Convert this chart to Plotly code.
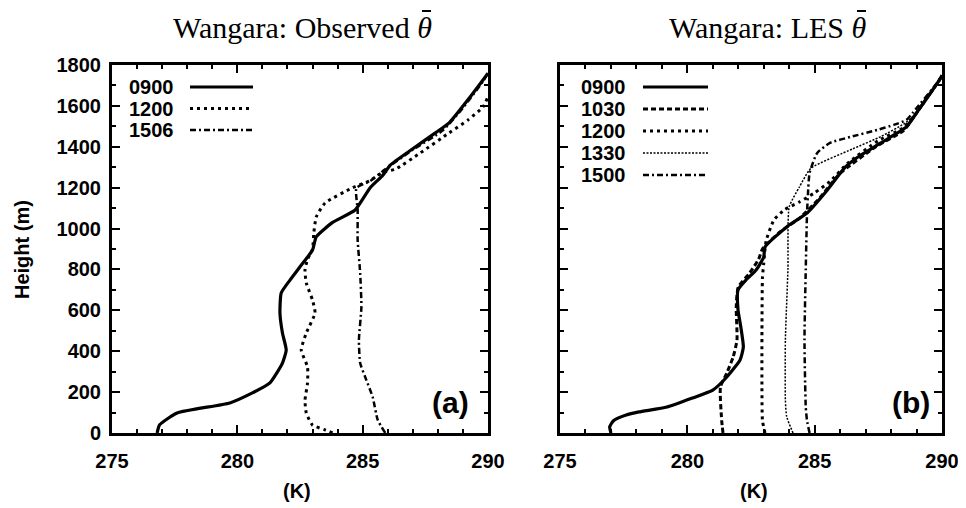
import plotly.graph_objects as go

# ---------------- data ----------------
# Panel (a): observed potential temperature profiles (K) vs height (m)
obs_0900_T = [276.8, 276.9, 277.6, 279.7, 280.6, 281.3, 281.8, 281.95, 281.8, 281.7, 281.75, 282.1, 282.5,
              283.0, 283.15, 283.8, 284.7, 285.3, 285.8, 286.1, 287.0, 287.9, 288.45, 289.2, 289.8, 290.0]
obs_0900_z = [0, 40, 98, 147, 196, 245, 342, 406, 489, 587, 685, 748, 813,
              895, 960, 1030, 1091, 1200, 1260, 1310, 1390, 1468, 1517, 1630, 1727, 1760]

obs_1200_T = [283.8, 283.5, 283.0, 282.75, 282.7, 282.8, 282.8, 282.55, 282.75, 283.1, 283.0, 282.75, 282.7,
              282.8, 283.0, 283.05, 283.15, 283.5, 284.6, 285.3, 285.8, 286.3, 287.3, 288.45, 289.2, 289.8, 290.0]
obs_1200_z = [0, 15, 39, 98, 161, 245, 323, 406, 489, 587, 650, 734, 798,
              850, 900, 978, 1057, 1125, 1200, 1235, 1275, 1290, 1370, 1468, 1531, 1595, 1645]

obs_1506_T = [285.9, 285.6, 285.4, 285.1, 284.9, 284.85, 284.95, 284.9, 284.8, 284.8, 284.75,
              285.3, 285.9, 287.0, 288.2, 289.0, 289.8, 290.0]
obs_1506_z = [0, 64, 176, 274, 342, 455, 616, 783, 944, 1091, 1198,
              1232, 1290, 1385, 1480, 1590, 1720, 1760]

# Panel (b): LES potential temperature profiles
les_0900_T = [277.0, 276.95, 277.1, 277.6, 278.1, 279.2, 280.2, 281.0, 281.55, 282.07, 282.2, 282.1, 281.99,
              281.99, 282.3, 282.7, 283.0, 283.05, 283.9, 284.7, 285.5, 286.2, 286.7, 287.6, 288.6, 289.0, 289.9, 290.0]
les_0900_z = [0, 30, 60, 88, 103, 127, 171, 210, 274, 357, 421, 519, 602,
              700, 748, 797, 861, 910, 1008, 1076, 1189, 1300, 1350, 1419, 1497, 1566, 1727, 1750]

les_1030_T = [281.4, 281.35, 281.3, 281.55, 281.8, 281.95, 281.92, 282.0, 282.45, 282.8, 282.95, 283.6,
              284.4, 285.2, 286.0, 287.4, 288.5, 289.0, 289.9, 290.0]
les_1030_z = [0, 60, 225, 293, 372, 455, 616, 714, 783, 850, 900, 980,
              1050, 1150, 1270, 1400, 1480, 1566, 1727, 1750]

les_1200_T = [283.05, 282.95, 282.93, 282.93, 282.95, 283.0, 283.05, 283.1, 283.4, 283.8, 284.4, 285.0,
              285.6, 286.3, 287.5, 288.5, 289.0, 289.9, 290.0]
les_1200_z = [0, 60, 200, 500, 760, 830, 900, 944, 1042, 1091, 1130, 1175,
              1230, 1320, 1430, 1495, 1566, 1727, 1750]

les_1330_T = [284.15, 283.9, 283.85, 283.85, 283.95, 284.0, 284.4, 284.85, 286.5, 287.6, 288.6, 289.1, 289.9, 290.0]
les_1330_z = [0, 80, 160, 455, 800, 1106, 1203, 1295, 1390, 1450, 1520, 1580, 1727, 1750]

les_1500_T = [284.8, 284.7, 284.65, 284.6, 284.65, 284.7, 284.75, 284.8, 285.1, 285.6, 286.4, 287.45,
              288.1, 288.6, 288.85, 289.9, 290.0]
les_1500_z = [0, 60, 127, 455, 800, 1076, 1200, 1272, 1370, 1419, 1448, 1482,
              1507, 1531, 1566, 1727, 1750]

obs_labels = ["0900", "1200", "1506"]
les_labels = ["0900", "1030", "1200", "1330", "1500"]

# ---------------- styles ----------------
S_SOLID = dict(width=3.2, dash="solid")
S_DOT = dict(width=3, dash="3px,4px")
S_DASHDOT = dict(width=2.5, dash="6px,3px,2px,3px")
S_DASH = dict(width=3, dash="5px,3px")
S_THIN = dict(width=1.5, dash="2px,1.5px")

# the page body has an 8px margin: size the figure so it fits the 966x508 window exactly
OX, OY = 8, 8
W, H = 966 - OX, 508 - OY
def px(x):
    return (x - OX) / W
def py(y):
    return 1 - (y - OY) / H

fig = go.Figure()

obs = [(obs_0900_T, obs_0900_z, S_SOLID), (obs_1200_T, obs_1200_z, S_DOT), (obs_1506_T, obs_1506_z, S_DASHDOT)]
les = [(les_0900_T, les_0900_z, S_SOLID), (les_1030_T, les_1030_z, S_DASH), (les_1200_T, les_1200_z, S_DOT),
       (les_1330_T, les_1330_z, S_THIN), (les_1500_T, les_1500_z, S_DASHDOT)]

for (T, z, st), name in zip(obs, obs_labels):
    fig.add_trace(go.Scatter(x=T, y=z, mode="lines", name=name, showlegend=False,
                             line=dict(color="black", width=st["width"], dash=st["dash"],
                                       shape="spline", smoothing=0.5),
                             xaxis="x", yaxis="y"))
for (T, z, st), name in zip(les, les_labels):
    fig.add_trace(go.Scatter(x=T, y=z, mode="lines", name=name, showlegend=False,
                             line=dict(color="black", width=st["width"], dash=st["dash"],
                                       shape="spline", smoothing=0.5),
                             xaxis="x2", yaxis="y2"))

tickfont = dict(family="Liberation Sans", size=20, color="black", weight="bold")
minor_x = dict(dtick=1, ticklen=4, tickwidth=2, ticks="inside", tickcolor="black")
minor_y = dict(dtick=100, ticklen=4, tickwidth=2, ticks="inside", tickcolor="black")
common = dict(showline=True, linewidth=3, linecolor="black", mirror="allticks", ticks="inside",
              ticklen=8, tickwidth=2, tickcolor="black", showgrid=False, zeroline=False, tickfont=tickfont,
              automargin=False)

ydom = [py(433), py(65)]
fig.update_layout(
    width=W, height=H, margin=dict(l=0, r=0, t=0, b=0, autoexpand=False),
    paper_bgcolor="white", plot_bgcolor="white", showlegend=False,
    xaxis=dict(domain=[px(112), px(488)], range=[275, 290], tick0=275, dtick=5, minor=minor_x,
               anchor="y", ticklabelstandoff=8, **common),
    yaxis=dict(domain=ydom, range=[0, 1800], tick0=0, dtick=200, minor=minor_y,
               anchor="x", ticklabelstandoff=4, **common),
    xaxis2=dict(domain=[px(560), px(942)], range=[275, 290], tick0=275, dtick=5, minor=minor_x,
                anchor="y2", ticklabelstandoff=8, **common),
    yaxis2=dict(domain=ydom, range=[0, 1800], tick0=0, dtick=200, minor=minor_y,
                anchor="x2", showticklabels=False, **common),
)

annotations = []
shapes = []
serif = dict(family="Liberation Serif", size=30, color="black")
bold = dict(family="Liberation Sans", size=20, color="black", weight="bold")

# titles: text ending with italic theta; the bar over theta is a short line
for txt, right_x, bar_x in [("Wangara: Observed <i>θ</i>", 433, 426), ("Wangara: LES <i>θ</i>", 868, 861)]:
    annotations.append(dict(text=txt, x=px(right_x), y=py(27), xref="paper", yref="paper",
                            showarrow=False, font=serif, xanchor="right", yanchor="middle", borderpad=0))
    shapes.append(dict(type="line", xref="paper", yref="paper", x0=px(bar_x - 4), x1=px(bar_x + 5),
                       y0=py(11), y1=py(11), line=dict(color="black", width=2)))

annotations.append(dict(text="Height (m)", x=px(22), y=py(250), xref="paper", yref="paper", textangle=-90,
                        showarrow=False, font=bold, xanchor="center", yanchor="middle"))
annotations.append(dict(text="(K)", x=px(297), y=py(491), xref="paper", yref="paper",
                        showarrow=False, font=bold, xanchor="center", yanchor="middle"))
annotations.append(dict(text="(K)", x=px(754), y=py(491), xref="paper", yref="paper",
                        showarrow=False, font=bold, xanchor="center", yanchor="middle"))
big = dict(family="Liberation Sans", size=30, color="black", weight="bold")
annotations.append(dict(text="(a)", x=px(450), y=py(402), xref="paper", yref="paper",
                        showarrow=False, font=big, xanchor="center", yanchor="middle"))
annotations.append(dict(text="(b)", x=px(911), y=py(402), xref="paper", yref="paper",
                        showarrow=False, font=big, xanchor="center", yanchor="middle"))

legfont = dict(family="Liberation Sans", size=20, color="black", weight="bold")
obs_styles = [S_SOLID, S_DOT, S_DASHDOT]
les_styles = [S_SOLID, S_DASH, S_DOT, S_THIN, S_DASHDOT]
for i, (lab, st) in enumerate(zip(obs_labels, obs_styles)):
    yy = 87 + i * 21.5
    annotations.append(dict(text=lab, x=px(127), y=py(yy), xref="paper", yref="paper",
                            showarrow=False, font=legfont, xanchor="left", yanchor="middle"))
    shapes.append(dict(type="line", xref="paper", yref="paper", x0=px(190), x1=px(253), y0=py(yy), y1=py(yy),
                       line=dict(color="black", width=st["width"], dash=st["dash"])))
for i, (lab, st) in enumerate(zip(les_labels, les_styles)):
    yy = 87 + i * 22
    annotations.append(dict(text=lab, x=px(579), y=py(yy), xref="paper", yref="paper",
                            showarrow=False, font=legfont, xanchor="left", yanchor="middle"))
    shapes.append(dict(type="line", xref="paper", yref="paper", x0=px(643), x1=px(708), y0=py(yy), y1=py(yy),
                       line=dict(color="black", width=st["width"], dash=st["dash"])))

fig.update_layout(annotations=annotations, shapes=shapes)
fig.write_html("out.html")
